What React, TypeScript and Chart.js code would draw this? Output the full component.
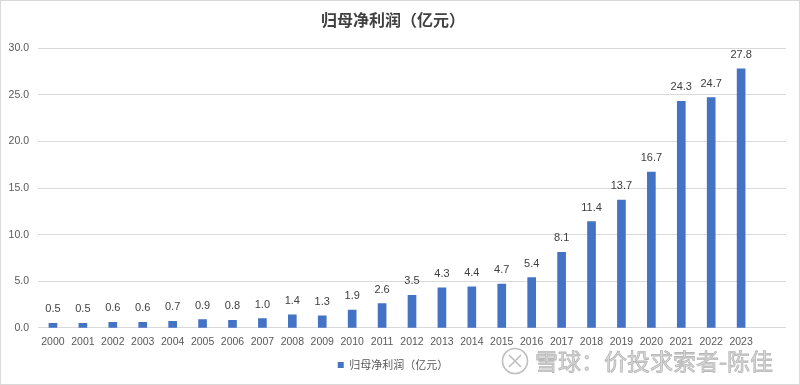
import React, { useEffect, useRef } from "react";
import { Chart, registerables } from "chart.js";

Chart.register(...registerables);

const years: string[] = [
  "2000", "2001", "2002", "2003", "2004", "2005", "2006", "2007", "2008", "2009",
  "2010", "2011", "2012", "2013", "2014", "2015", "2016", "2017", "2018", "2019",
  "2020", "2021", "2022", "2023",
];
const profit: number[] = [
  0.5, 0.5, 0.6, 0.6, 0.7, 0.9, 0.8, 1.0, 1.4, 1.3,
  1.9, 2.6, 3.5, 4.3, 4.4, 4.7, 5.4, 8.1, 11.4, 13.7,
  16.7, 24.3, 24.7, 27.8,
];
const titleText = "归母净利润（亿元）";
const seriesName = "归母净利润（亿元）";
const watermarkText = "雪球：价投求索者-陈佳";

const LATIN = "'Liberation Sans', Arial, sans-serif";
const CJK = "'Noto Sans CJK SC', 'Liberation Sans', sans-serif";

const decorPlugin = {
  id: "decor",
  afterDatasetsDraw(chart: any) {
    const ctx = chart.ctx;
    const meta = chart.getDatasetMeta(0);
    const data = chart.data.datasets[0].data as number[];
    ctx.save();
    ctx.font = `11px ${LATIN}`;
    ctx.fillStyle = "#404040";
    ctx.textAlign = "center";
    ctx.textBaseline = "middle";
    meta.data.forEach((bar: any, i: number) => {
      const v = data[i];
      if (v == null) return;
      ctx.fillText(v.toFixed(1), bar.x, bar.y - 14);
    });
    ctx.restore();
  },
  afterDraw(chart: any) {
    const ctx = chart.ctx;
    ctx.save();
    // watermark
    ctx.strokeStyle = "rgba(175,175,175,0.8)";
    ctx.lineWidth = 1.6;
    ctx.beginPath();
    ctx.arc(515, 361, 12.5, 0, Math.PI * 2);
    ctx.stroke();
    ctx.beginPath();
    ctx.moveTo(509, 355);
    ctx.lineTo(521, 367);
    ctx.moveTo(521, 355);
    ctx.lineTo(509, 367);
    ctx.stroke();
    ctx.font = `23px ${CJK}`;
    ctx.textAlign = "left";
    ctx.textBaseline = "middle";
    ctx.fillStyle = "rgba(215,215,215,0.9)";
    ctx.fillText(watermarkText, 535, 361);
    ctx.strokeStyle = "rgba(170,170,170,0.8)";
    ctx.lineWidth = 0.8;
    ctx.strokeText(watermarkText, 535, 361);
    // outer border
    ctx.strokeStyle = "#d9d9d9";
    ctx.lineWidth = 1;
    ctx.strokeRect(0.5, 0.5, chart.width - 1, chart.height - 1);
    ctx.restore();
  },
};

export default function App() {
  const canvasRef = useRef<HTMLCanvasElement | null>(null);

  useEffect(() => {
    document.body.style.margin = "0";
    const canvas = canvasRef.current;
    if (!canvas) return;
    const chart = new Chart(canvas, {
      type: "bar",
      data: {
        labels: [...years, ""],
        datasets: [
          {
            label: seriesName,
            data: profit,
            backgroundColor: "#4472C4",
            borderWidth: 0,
            barThickness: 8,
          },
        ],
      },
      plugins: [decorPlugin],
      options: {
        responsive: false,
        animation: false,
        devicePixelRatio: 1,
        layout: { padding: { left: 0, right: 14, top: 0, bottom: 4.5 } },
        plugins: {
          title: {
            display: true,
            text: titleText,
            color: "#404040",
            font: { family: CJK, size: 16, weight: "bold" },
            padding: { top: 10, bottom: 19 },
          },
          legend: {
            display: true,
            position: "bottom",
            labels: {
              color: "#595959",
              font: { family: CJK, size: 11 },
              boxWidth: 6,
              boxHeight: 6,
              padding: 3,
            },
          },
          tooltip: { enabled: false },
        },
        scales: {
          x: {
            offset: true,
            grid: { display: false, drawTicks: false },
            border: { display: false },
            ticks: {
              color: "#595959",
              font: { family: LATIN, size: 10.5 },
              padding: 8,
              maxRotation: 0,
              autoSkip: false,
            },
          },
          y: {
            min: 0,
            max: 30,
            grid: { color: "#d9d9d9", drawTicks: false },
            border: { display: false },
            ticks: {
              stepSize: 5,
              color: "#595959",
              font: { family: LATIN, size: 10.5 },
              padding: 9,
              callback: (v: any) => Number(v).toFixed(1),
            },
            afterFit: (scale: any) => {
              scale.width = 38;
            },
          },
        },
      },
    });
    return () => chart.destroy();
  }, []);

  return (
    <div style={{ width: 800, height: 385, background: "#fff" }}>
      <canvas ref={canvasRef} width={800} height={385} />
    </div>
  );
}
